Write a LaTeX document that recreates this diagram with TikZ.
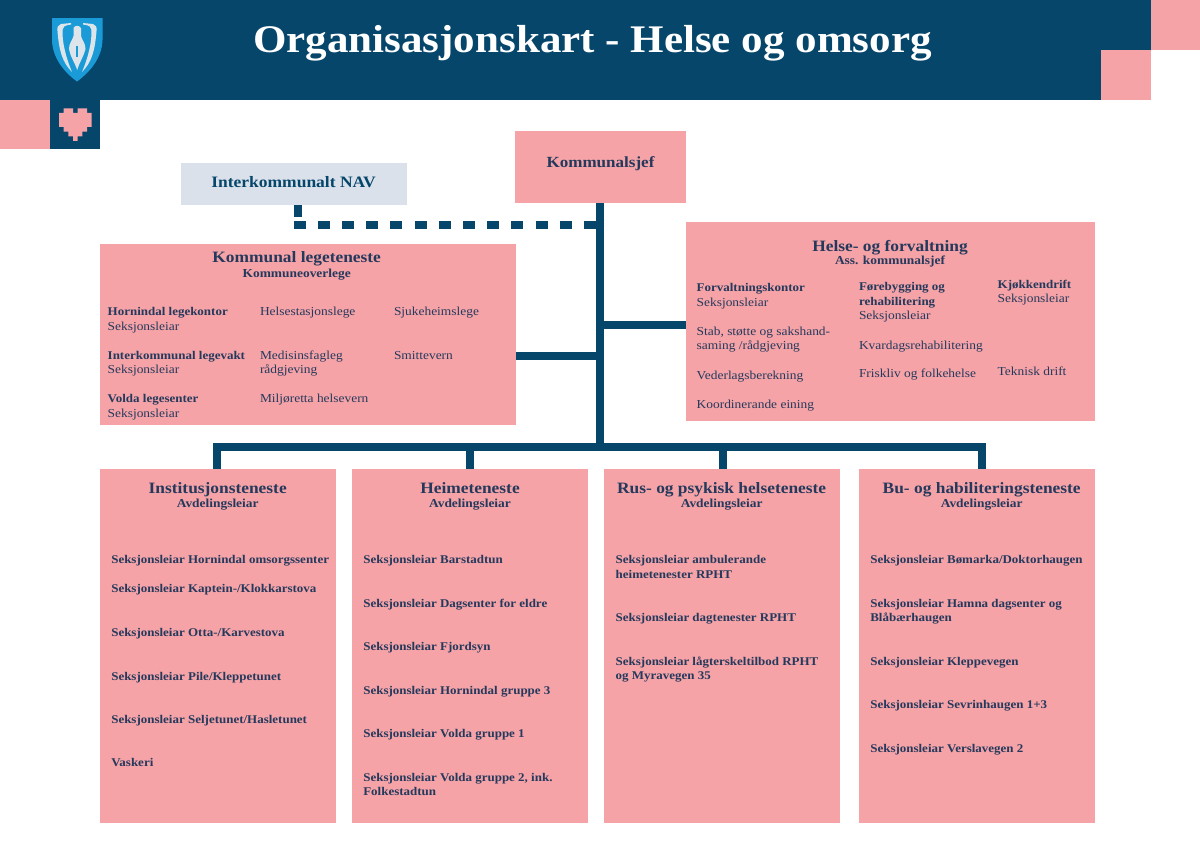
\documentclass[tikz,border=0pt]{standalone}
\usepackage{fontspec}
\setmainfont[FakeStretch=1.1]{Liberation Serif}
\definecolor{navy}{HTML}{06466B}
\definecolor{rosa}{HTML}{F5A3A7}
\definecolor{ink}{HTML}{25395C}
\definecolor{ljos}{HTML}{DAE1EA}
\definecolor{skjold}{HTML}{1A9BD7}
\definecolor{kvit}{HTML}{DDE5EB}
\tikzset{
  x=1pt,y=-1pt,
  txt/.style={anchor=north west,inner sep=0pt,outer sep=0pt,align=left,text=ink,
    font=\fontsize{12.2}{14.5}\selectfont},
  head/.style={anchor=base,inner sep=0pt,outer sep=0pt,text=ink,
    font=\fontsize{15.8}{18}\selectfont\bfseries},
  sub/.style={anchor=base,inner sep=0pt,outer sep=0pt,text=ink,
    font=\fontsize{12.2}{14}\selectfont\bfseries},
  link/.style={draw=navy,line width=8pt},
  drop/.style={draw=navy,line width=8pt},
  dashlink/.style={draw=navy,line width=8pt,dash pattern=on 12pt off 12.2pt},
}
\newcommand{\boks}[5]{\path[fill=rosa] (#2,#3) rectangle (#4,#5) node[pos=.5,inner sep=0pt,outer sep=0pt,minimum width=#4pt-#2pt,minimum height=#5pt-#3pt] (#1) {};}
\newcommand{\entry}[4]{\node[txt] (#1) at (#2,#3-9) {\rule{0pt}{9pt}#4};}
\newcommand{\bo}[1]{{\fontsize{11.8}{14.5}\selectfont\bfseries #1}}
\begin{document}
\begin{tikzpicture}
\useasboundingbox (0,0) rectangle (1200,849);
% header
\fill[navy] (0,0) rectangle (1151,99.5);
\fill[rosa] (1151,0) rectangle (1200,50);
\fill[rosa] (1101,50) rectangle (1151,99.5);
\fill[rosa] (0,99.5) rectangle (50,149);
\fill[navy] (50,99.5) rectangle (100,149);
% heart
\begin{scope}[shift={(59,108.3)},x=4.67pt,y=-4.67pt]
\fill[rosa] (1,0)-|(3,1)-|(4,0)-|(6,1)-|(7,4)-|(6,5)-|(5,6)-|(4,7)-|(3,6)-|(2,5)-|(1,4)-|(0,1)-|cycle;
\end{scope}
% shield
\fill[skjold] (52,18) -- (102.5,18) -- (102.5,40) .. controls (102,58) and (90,72) .. (77,81.5) .. controls (64,72) and (52.5,58) .. (52,40) -- cycle;
\fill[kvit] (71,23) -- (61,24) .. controls (58,25) and (57,27) .. (57.5,31) .. controls (59,50) and (62,62) .. (72,72) .. controls (66,58) and (62,42) .. (62.5,30) .. controls (62.5,27) and (64,25.5) .. (71,24.5) -- cycle;
\fill[kvit] (83,23) -- (93,24) .. controls (96,25) and (97,27) .. (96.5,31) .. controls (95,50) and (92,62) .. (82,72) .. controls (88,58) and (92,42) .. (91.5,30) .. controls (91.5,27) and (90,25.5) .. (83,24.5) -- cycle;
\fill[kvit] (73.5,28) .. controls (75,25) and (79,25) .. (81,28) -- (81,36) .. controls (82,40) and (85.5,43) .. (85.5,49) .. controls (84,56) and (79,63) .. (77.2,70) .. controls (75,63) and (70,56) .. (69,49) .. controls (69,43) and (72.5,40) .. (73.5,36) -- cycle;
\fill[skjold] (76.4,46) rectangle (78,57);
% boxes
\boks{ksjef}{515}{131}{685.5}{203}
\boks{nav}{181}{162.5}{407}{205}
\fill[ljos] (181,162.5) rectangle (407,205);
\boks{lege}{100}{244}{515.5}{425}
\boks{helse}{686}{222}{1095}{420.5}
\boks{inst}{100}{468.5}{336}{823}
\boks{heim}{352}{468.5}{588}{823}
\boks{rus}{604}{468.5}{840}{823}
\boks{bu}{859}{468.5}{1095}{823}
\coordinate (navdrop) at (298,224.7);
\coordinate (navend) at (600,224.7);
\coordinate (stem) at (600,446.5);
\coordinate (leg1) at (600,356);
\coordinate (leg2) at (600,325);
\coordinate (busl) at (213.3,446.5);
\coordinate (busr) at (985.5,446.5);
\coordinate (d1) at (217.4,446.5);
\coordinate (d2) at (470,446.5);
\coordinate (d3) at (723.4,446.5);
\coordinate (d4) at (981.6,446.5);
\coordinate (dashstart) at (293.5,224.7);
\coordinate (navstub) at (298,217);
\draw[link] (ksjef.south -| stem) -- (stem);
\draw[link] (leg1) -- (lege.east |- leg1);
\draw[link] (leg2) -- (helse.west |- leg2);
\draw[link] (busl) -- (busr);
\draw[drop] (d1) -- (inst.north -| d1);
\draw[drop] (d2) -- (heim.north -| d2);
\draw[drop] (d3) -- (rus.north -| d3);
\draw[drop] (d4) -- (bu.north -| d4);
\draw[dashlink] (dashstart) -- (navend);
\draw[link] (nav.south -| navdrop) -- (navstub);
% title
\node[anchor=base,inner sep=0pt,text=white,font=\fontsize{39.1}{46}\selectfont\bfseries] (tittel) at (592.5,52) {Organisasjonskart - Helse og omsorg};
\node[sub,font=\fontsize{15.5}{18}\selectfont\bfseries] (ksjeft) at (600.5,167) {Kommunalsjef};
\node[sub,text=navy,font=\fontsize{15.9}{18}\selectfont\bfseries] (navt) at (293.5,187.7) {Interkommunalt NAV};
% legeteneste
\node[head] (legeh) at (296.7,262.7) {Kommunal legeteneste};
\node[sub] (leges) at (296.7,277.7) {Kommuneoverlege};
\entry{l1}{107.7}{315.7}{\bo{Hornindal legekontor}\\Seksjonsleiar}
\entry{l2}{107.7}{359}{\bo{Interkommunal legevakt}\\Seksjonsleiar}
\entry{l3}{107.7}{402.7}{\bo{Volda legesenter}\\Seksjonsleiar}
\entry{l4}{260}{315.7}{Helsestasjonslege}
\entry{l5}{260}{359}{Medisinsfagleg\\rådgjeving}
\entry{l6}{260}{402.7}{Miljøretta helsevern}
\entry{l7}{394}{315.7}{Sjukeheimslege}
\entry{l8}{394}{359}{Smittevern}
% helse
\node[head] (helseh) at (890,251) {Helse- og forvaltning};
\node[sub] (helses) at (890,264.7) {Ass. kommunalsjef};
\entry{h1}{696.7}{291.7}{\bo{Forvaltningskontor}\\Seksjonsleiar}
\entry{h2}{696.7}{335}{Stab, støtte og sakshand-\\saming /rådgjeving}
\entry{h3}{696.7}{379}{Vederlagsberekning}
\entry{h4}{696.7}{408}{Koordinerande eining}
\entry{h5}{859}{290.7}{\bo{Førebygging og}\\\bo{rehabilitering}\\Seksjonsleiar}
\entry{h6}{859}{349}{Kvardagsrehabilitering}
\entry{h7}{859}{377.7}{Friskliv og folkehelse}
\entry{h8}{997.7}{288.3}{\bo{Kjøkkendrift}\\Seksjonsleiar}
\entry{h9}{997.7}{375.7}{Teknisk drift}
% institusjon
\node[head] (insth) at (217.7,493) {Institusjonsteneste};
\node[sub] (insts) at (217.7,507.3) {Avdelingsleiar};
\entry{i1}{111.3}{563.7}{\bo{Seksjonsleiar Hornindal omsorgssenter}}
\entry{i2}{111.3}{592.7}{\bo{Seksjonsleiar Kaptein-/Klokkarstova}}
\entry{i3}{111.3}{636.3}{\bo{Seksjonsleiar Otta-/Karvestova}}
\entry{i4}{111.3}{680}{\bo{Seksjonsleiar Pile/Kleppetunet}}
\entry{i5}{111.3}{723.4}{\bo{Seksjonsleiar Seljetunet/Hasletunet}}
\entry{i6}{111.3}{766.8}{\bo{Vaskeri}}
% heimeteneste
\node[head] (heimh) at (470,493) {Heimeteneste};
\node[sub] (heims) at (470,507.3) {Avdelingsleiar};
\entry{e1}{363.3}{563.7}{\bo{Seksjonsleiar Barstadtun}}
\entry{e2}{363.3}{607}{\bo{Seksjonsleiar Dagsenter for eldre}}
\entry{e3}{363.3}{650.5}{\bo{Seksjonsleiar Fjordsyn}}
\entry{e4}{363.3}{694}{\bo{Seksjonsleiar Hornindal gruppe 3}}
\entry{e5}{363.3}{737.5}{\bo{Seksjonsleiar Volda gruppe 1}}
\entry{e6}{363.3}{781}{\bo{Seksjonsleiar Volda gruppe 2, ink.}\\\bo{Folkestadtun}}
% rus
\node[head] (rush) at (721.7,493) {Rus- og psykisk helseteneste};
\node[sub] (russ) at (721.7,507.3) {Avdelingsleiar};
\entry{r1}{615.7}{563.7}{\bo{Seksjonsleiar ambulerande}\\\bo{heimetenester RPHT}}
\entry{r2}{615.7}{621.6}{\bo{Seksjonsleiar dagtenester RPHT}}
\entry{r3}{615.7}{665}{\bo{Seksjonsleiar lågterskeltilbod RPHT}\\\bo{og Myravegen 35}}
% bu
\node[head] (buh) at (981.7,493) {Bu- og habiliteringsteneste};
\node[sub] (bus) at (981.7,507.3) {Avdelingsleiar};
\entry{b1}{870.3}{563.7}{\bo{Seksjonsleiar Bømarka/Doktorhaugen}}
\entry{b2}{870.3}{607}{\bo{Seksjonsleiar Hamna dagsenter og}\\\bo{Blåbærhaugen}}
\entry{b3}{870.3}{665}{\bo{Seksjonsleiar Kleppevegen}}
\entry{b4}{870.3}{708.5}{\bo{Seksjonsleiar Sevrinhaugen 1+3}}
\entry{b5}{870.3}{752}{\bo{Seksjonsleiar Verslavegen 2}}
\end{tikzpicture}
\end{document}
